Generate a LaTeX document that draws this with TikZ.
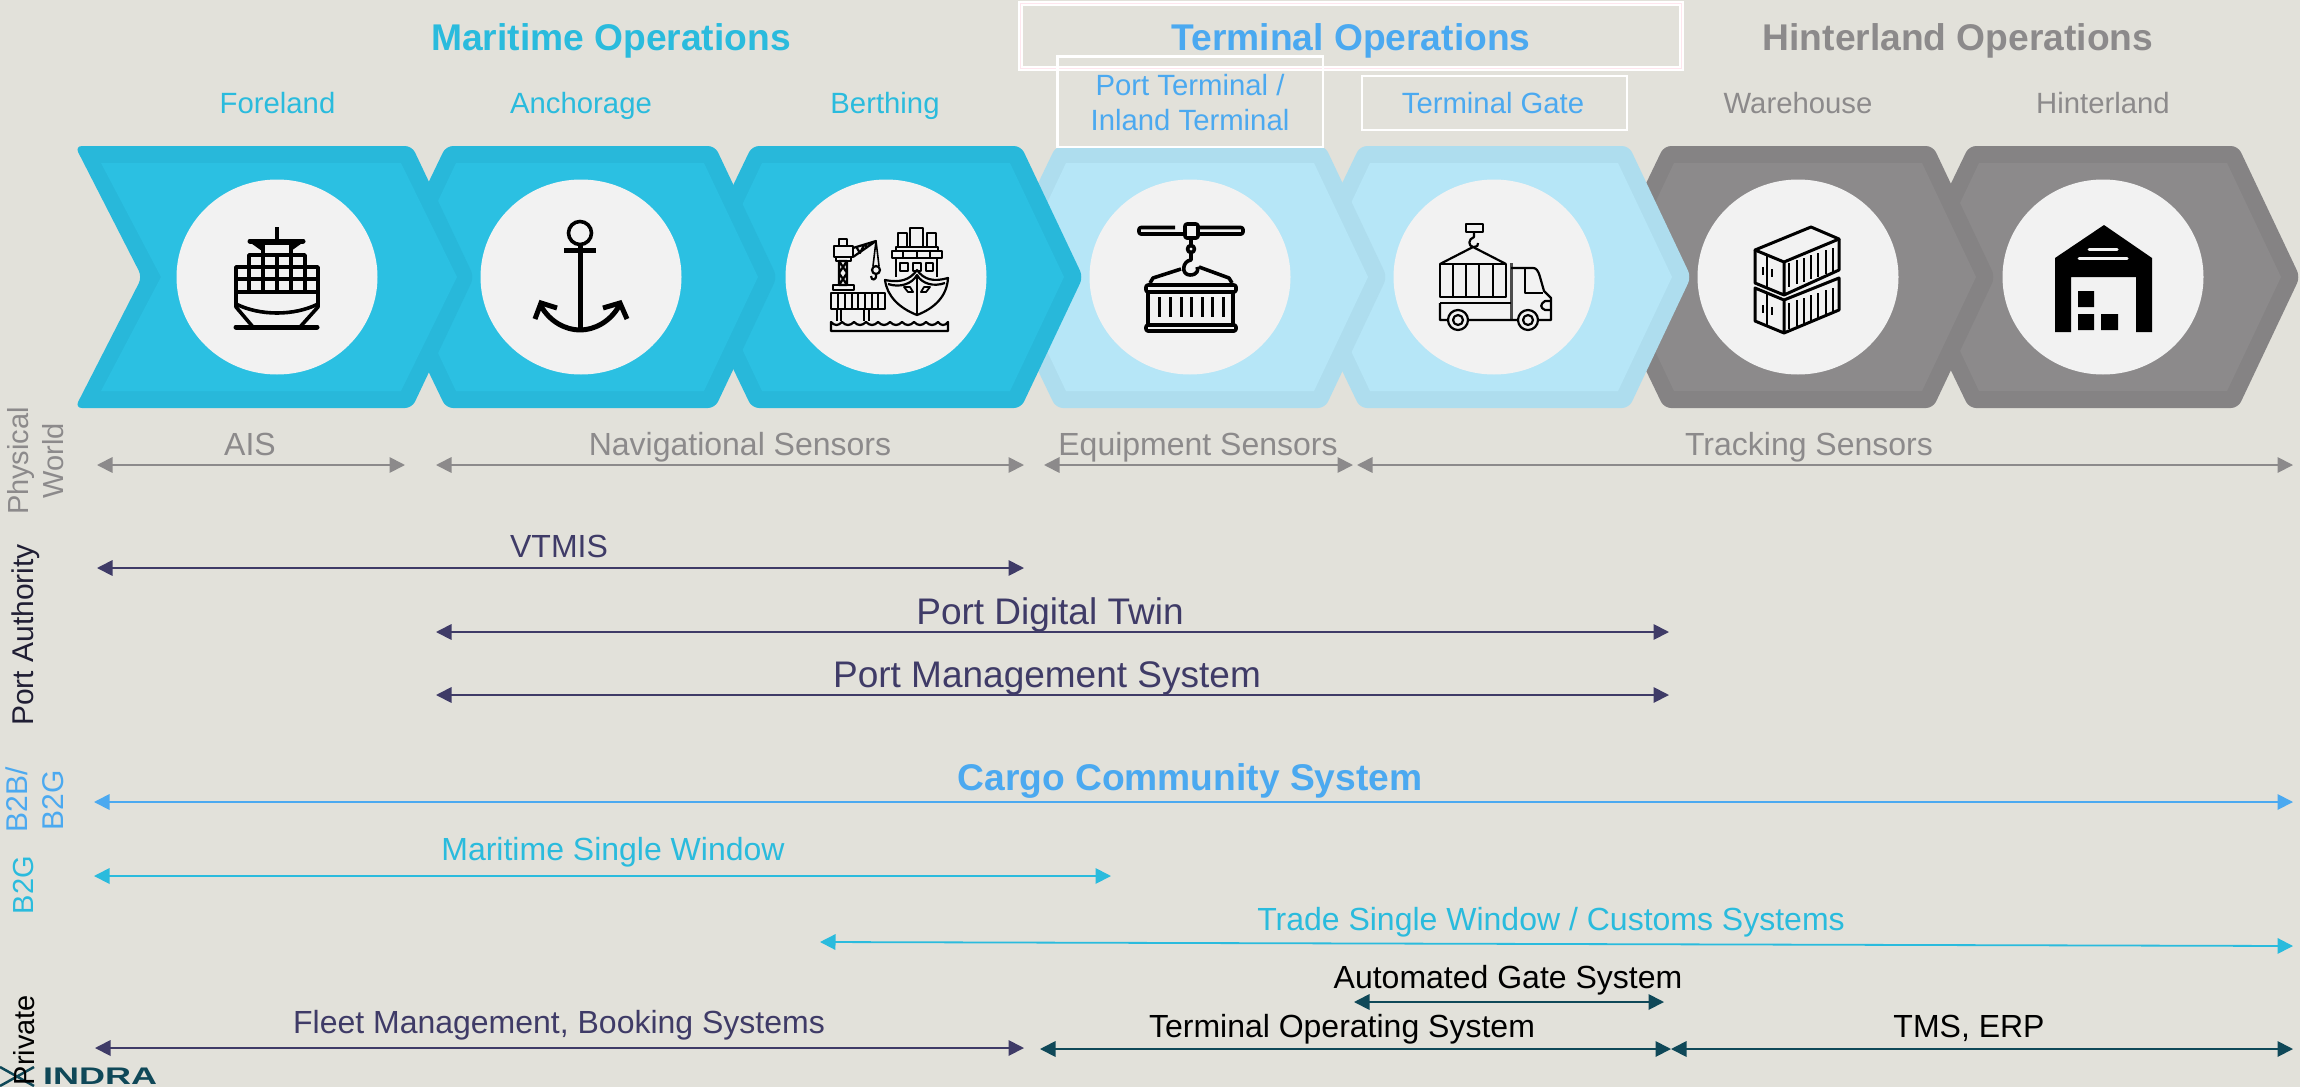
\documentclass[tikz,border=0pt]{standalone}
\usepackage{fontspec}
\usepackage{graphicx}
\setmainfont{Liberation Sans}
\usetikzlibrary{arrows.meta,shapes.geometric}
\definecolor{bgc}{HTML}{E2E1DA}
\definecolor{blueO}{HTML}{28B8DA}
\definecolor{blueI}{HTML}{2BC0E2}
\definecolor{lightO}{HTML}{AEDDEE}
\definecolor{lightI}{HTML}{B6E6F7}
\definecolor{grayO}{HTML}{858384}
\definecolor{grayI}{HTML}{8C8A8B}
\definecolor{disc}{HTML}{F2F2F2}
\definecolor{termB}{HTML}{4BA9F0}
\definecolor{mariB}{HTML}{2ABBDD}
\definecolor{txtG}{HTML}{8C8A8B}
\definecolor{navy}{HTML}{3F3B67}
\definecolor{teal}{HTML}{0F4858}
\definecolor{pinkline}{HTML}{FFE6EE}
\newcommand{\hexchev}[3]{%
  \fill[#2,rounded corners=7] ({#1-134},146) -- ({#1+135},146) -- ({#1+197},277) -- ({#1+135},408) -- ({#1-134},408) -- ({#1-197},277) -- cycle;
  \fill[#3] ({#1-124},163) -- ({#1+124},163) -- ({#1+178},277) -- ({#1+124},391) -- ({#1-124},391) -- ({#1-178},277) -- cycle;
}
\newcommand{\fsz}[1]{\fontsize{#1}{#1}\selectfont}
\tikzset{
  x=1pt,y=-1pt,
  disk/.style={ellipse,fill=disc,minimum width=201pt,minimum height=195pt,inner sep=0pt},
  lab/.style={anchor=base,inner sep=0pt,font=\fsz{29.3}},
  head/.style={anchor=base,inner sep=0pt,font=\fsz{37.2}\bfseries},
  whitebox/.style={draw=white,line width=2.2pt,fill=none},
  harrow/.style={line width=1.8pt,{Triangle[length=15.5pt,width=15.5pt]}-{Triangle[length=15.5pt,width=15.5pt]}},
  side/.style={inner sep=0pt,rotate=90,anchor=center,align=center},
  ico/.style={line width=3.6pt,draw=black,line join=round},
  icot/.style={line width=2.2pt,draw=black,line join=round},
}
\begin{document}
\begin{tikzpicture}
\useasboundingbox (0,0) rectangle (2300,1087);
\fill[bgc] (0,0) rectangle (2300,1087);

% chevrons, back to front
\hexchev{2103}{grayO}{grayI}
\hexchev{1798}{grayO}{grayI}
\hexchev{1494}{lightO}{lightI}
\hexchev{1190}{lightO}{lightI}
\hexchev{886}{blueO}{blueI}
\hexchev{580}{blueO}{blueI}
\fill[blueO,rounded corners=7] (75,146) -- (412,146) -- (474,277) -- (412,408) -- (75,408) -- (142,277) -- cycle;
\fill[blueI] (101,163) -- (401,163) -- (457,277) -- (401,391) -- (101,391) -- (161,277) -- cycle;

% discs
\node[disk] (d1) at (277,277) {};
\node[disk] (d2) at (581,277) {};
\node[disk] (d3) at (886,277) {};
\node[disk] (d4) at (1190,277) {};
\node[disk] (d5) at (1494,277) {};
\node[disk] (d6) at (1798,277) {};
\node[disk] (d7) at (2103,277) {};

% ---- ship
\draw[ico] (277,227) -- (277,240);
\draw[line width=5pt,line cap=round] (250,241) -- (303,241);
\fill (248,241) -- (262,251) -- (264,243) -- cycle;
\fill (305,241) -- (291,251) -- (289,243) -- cycle;
\draw[ico] (263,243) rectangle (291,255);
\draw[ico] (249,255) rectangle (305,267);
\foreach \xx in {263,277,291} \draw[ico] (\xx,255) -- (\xx,267);
\draw[ico] (236,267) rectangle (318,292);
\draw[ico] (236,279) -- (318,279);
\foreach \xx in {249,263,277,291,305} \draw[ico] (\xx,267) -- (\xx,292);
\draw[ico] (236,292) -- (236,307) -- (253,327);
\draw[ico] (318,292) -- (318,307) -- (300,327);
\draw[ico] (236,304) .. controls (260,316) and (294,316) .. (318,304);
\draw[line width=5pt,line cap=round] (236,327) -- (317,327);

% ---- anchor
\draw[ico] (580,233) circle (11.5);
\draw[line width=5pt] (564,250) -- (596,250);
\draw[ico,line width=5pt] (580,244) -- (580,330);
\draw[ico,line width=5pt] (541,306) .. controls (550,322) and (566,330) .. (580,330) .. controls (594,330) and (610,322) .. (619,306);
\draw[ico,line width=5pt,line join=miter] (535,319) -- (541,303) -- (557,308);
\draw[ico,line width=5pt,line join=miter] (627,319) -- (620,303) -- (603,308);

% ---- berth
\draw[icot] (839,239) rectangle (847,246);
\draw[icot] (834,246) rectangle (853,257);
\draw[icot] (836,257) rectangle (851,261);
\draw[icot] (839,261) rectangle (847,285) (839,261) -- (847,273) -- (839,285) (847,261) -- (839,273) -- (847,285);
\draw[icot] (833,285) rectangle (854,290);
\draw[icot] (853,248) -- (876,241) -- (853,257) (857,248) -- (860,253) -- (864,245) -- (868,247);
\draw[icot,line width=1.6pt] (876,241) -- (873,266) (876,241) -- (879,266);
\draw[icot] (876,270) circle (4);
\draw[icot] (876,274) .. controls (877,281) and (871,281) .. (871,276);
\draw[icot] (831,293) rectangle (885,309);
\foreach \xx in {838,845,852,858,865,872,878} \draw[icot,line width=1.6pt] (\xx,293) -- (\xx,309);
\draw[icot] (837,309) -- (837,321) (841,309) -- (841,321) (864,309) -- (864,321) (869,309) -- (869,321);
\draw[icot] (831,322) .. controls (835,326) and (838,326) .. (842,322) .. controls (846,326) and (850,326) .. (854,322) .. controls (858,326) and (862,326) .. (866,322) .. controls (870,326) and (874,326) .. (878,322) .. controls (882,326) and (886,326) .. (890,322) .. controls (894,326) and (898,326) .. (902,322) .. controls (906,326) and (910,326) .. (914,322) .. controls (918,326) and (922,326) .. (926,322) .. controls (930,326) and (934,326) .. (938,322) .. controls (941,326) and (945,326) .. (948,322) -- (948,331) -- (831,331) -- cycle;
\draw[icot] (898,233) rectangle (907,247);
\draw[icot] (910,228) rectangle (923,247);
\draw[icot] (927,233) rectangle (936,247);
\draw[icot] (896,247) rectangle (938,251);
\draw[icot] (892,251) rectangle (942,258);
\draw[icot] (903,251) -- (903,258) (917,251) -- (917,258) (930,251) -- (930,258);
\draw[icot] (896,258) -- (896,277) (937,258) -- (937,277);
\draw[icot] (900,263) rectangle (908,271) (913,263) rectangle (921,271) (926,263) rectangle (933,271);
\filldraw[icot,fill=disc] (885,280) .. controls (900,283) and (910,280) .. (917,270) .. controls (924,280) and (934,282) .. (948,278) .. controls (947,296) and (935,308) .. (917,315) .. controls (899,308) and (887,296) .. (885,280) -- cycle;
\draw[icot] (888,284) .. controls (900,288) and (912,284) .. (917,275) .. controls (922,284) and (934,287) .. (945,283);
\draw[icot] (917,276) -- (917,315);
\draw[icot,line width=1.8pt] (904,287) -- (910,287) -- (913,292) -- (908,292) -- cycle (930,287) -- (924,287) -- (921,292) -- (926,292) -- cycle;

% ---- crane & container
\draw[ico,rounded corners=2] (1175,227.5) -- (1139,227.5) -- (1139,234) -- (1243,234) -- (1243,227.5) -- (1185,227.5);
\filldraw[ico,fill=disc,rounded corners=2] (1185,224) rectangle (1198,238);
\draw[ico] (1191,238) -- (1191,245);
\draw[ico] (1191,249) circle (3.5);
\draw[ico] (1191,253) -- (1191,260) .. controls (1182,261) and (1181,275) .. (1190,275) .. controls (1197,275) and (1199,270) .. (1197,267);
\draw[ico] (1150,283) -- (1153,278) -- (1181,269) (1232,283) -- (1229,278) -- (1199,267);
\draw[ico,rounded corners=2] (1146,285) rectangle (1236,292);
\draw[ico] (1148,292) -- (1148,324) (1233,292) -- (1233,324);
\foreach \xx in {1159,1170,1181,1191,1202,1212,1223} \draw[ico,line width=3pt] (\xx,297) -- (\xx,317);
\draw[ico,rounded corners=2] (1146,325) rectangle (1236,331);

% ---- truck
\draw[icot] (1466,224) rectangle (1483,232);
\draw[icot] (1474,232) -- (1474,237) .. controls (1468,239) and (1468,246) .. (1473,247) .. controls (1477,247) and (1479,245) .. (1478,243);
\draw[icot] (1440,264) -- (1473,247) -- (1506,264);
\draw[icot] (1440,264) rectangle (1506,297);
\foreach \xx in {1453,1466,1479,1493} \draw[icot] (\xx,264) -- (\xx,297);
\draw[line width=3pt,black!70] (1511,263) -- (1511,320);
\draw[icot] (1440,303) -- (1511,303);
\draw[icot] (1440,303) -- (1440,320) -- (1448,320) (1468,320) -- (1518,320) (1538,320) -- (1551,320) -- (1551,298) -- (1544,291) -- (1540,277) .. controls (1538,270) and (1536,268) .. (1533,268) -- (1511,268);
\draw[icot] (1525,268) -- (1525,293) -- (1543,293);
\draw[icot] (1551,301) -- (1545,301) .. controls (1540,304) and (1540,308) .. (1545,310) -- (1551,310);
\draw[icot] (1458,320) circle (10) (1458,320) circle (5);
\draw[icot] (1528,320) circle (10) (1528,320) circle (5);

% ---- stacked containers
\draw[ico,line width=3pt] (1811,227) -- (1839,239) -- (1784,262) -- (1755,250) -- cycle;
\draw[ico,line width=3pt] (1755,250) -- (1755,283) -- (1784,295) -- (1839,270) -- (1839,239) (1784,262) -- (1784,295);
\draw[ico,line width=3pt] (1755,288) -- (1755,321) -- (1784,333) -- (1839,310) -- (1839,278) -- (1784,300) -- cycle (1784,300) -- (1784,333);
\draw[icot] (1767,255) -- (1767,288) (1767,293) -- (1767,326);
\foreach \xx/\yy in {1789/263,1797/260,1804/258,1811/255,1818/253,1826/250,1833/248}{
  \draw[line width=2.6pt] (\xx,\yy) -- (\xx,\yy+24);
  \draw[line width=2.6pt] (\xx,\yy+40) -- (\xx,\yy+66);
}
\draw[line width=2.6pt] (1763,267) -- (1763,275) (1772,269) -- (1772,277) (1763,305) -- (1763,313) (1772,307) -- (1772,315);

% ---- warehouse
\fill (2104,225) -- (2152,258) -- (2152,332) -- (2136,332) -- (2136,277) -- (2071,277) -- (2071,332) -- (2055,332) -- (2055,258) -- cycle;
\fill (2078,291) rectangle (2094,307) (2078,314) rectangle (2094,330) (2101,314) rectangle (2118,330);
\draw[disc,line width=3pt,line cap=round] (2089,249) -- (2117,249) (2079,258) -- (2127,258);

% headings
\node[head,text=mariB] (hM) at (611,50) {Maritime Operations};
\node[head,text=termB] (hT) at (1351,50) {Terminal Operations};
\node[head,text=txtG] (hH) at (1958,50) {Hinterland Operations};
\draw[whitebox,line width=5pt] (1020.5,3.5) rectangle (1681,68.5);
\draw[pinkline,line width=0.7pt] (1020.5,3.5) rectangle (1681,68.5);
\draw[whitebox] (1057.5,56.5) rectangle (1323,147);
\draw[whitebox] (1362,76) rectangle (1627,130);

\node[lab,text=mariB] (l1) at (277.5,113) {Foreland};
\node[lab,text=mariB] (l2) at (581,113) {Anchorage};
\node[lab,text=mariB] (l3) at (885,113) {Berthing};
\node[lab,text=termB] (l4a) at (1190,95) {Port Terminal /};
\node[lab,text=termB] (l4b) at (1190,130) {Inland Terminal};
\node[lab,text=termB] (l5) at (1493,113) {Terminal Gate};
\node[lab,text=txtG] (l6) at (1798,113) {Warehouse};
\node[lab,text=txtG] (l7) at (2103,113) {Hinterland};

% arrow ends
\foreach \n/\a/\b/\y in {aA/97/405/465,aN/436/1024/465,aE/1044/1353/465,aT/1357/2293/465,
  vL/97/1024/568,pT/436/1669/632,pM/436/1669/695,cC/94/2293/802,mW/94/1111/876,aG/1354/1664/1002,
  fB/95/1024/1048,tO/1040/1671/1049,tE/1671/2293/1049}{
  \coordinate (\n1) at (\a,\y);
  \coordinate (\n2) at (\b,\y);
}
\coordinate (tS1) at (820,942);
\coordinate (tS2) at (2293,946);

\draw[harrow,txtG] (aA1) -- (aA2);
\draw[harrow,txtG] (aN1) -- (aN2);
\draw[harrow,txtG] (aE1) -- (aE2);
\draw[harrow,txtG] (aT1) -- (aT2);
\draw[harrow,navy] (vL1) -- (vL2);
\draw[harrow,navy] (pT1) -- (pT2);
\draw[harrow,navy] (pM1) -- (pM2);
\draw[harrow,termB] (cC1) -- (cC2);
\draw[harrow,mariB] (mW1) -- (mW2);
\draw[harrow,mariB] (tS1) -- (tS2);
\draw[harrow,teal] (aG1) -- (aG2);
\draw[harrow,navy] (fB1) -- (fB2);
\draw[harrow,teal] (tO1) -- (tO2);
\draw[harrow,teal] (tE1) -- (tE2);

\node[lab,text=txtG,font=\fsz{32}] (tA) at (250,455) {AIS};
\node[lab,text=txtG,font=\fsz{32}] (tN) at (740,455) {Navigational Sensors};
\node[lab,text=txtG,font=\fsz{32}] (tEq) at (1198,455) {Equipment Sensors};
\node[lab,text=txtG,font=\fsz{32}] (tTr) at (1809,455) {Tracking Sensors};
\node[lab,text=navy,font=\fsz{32}] (tV) at (559,557) {VTMIS};
\node[lab,text=navy,font=\fsz{37}] (tP) at (1050,624) {Port Digital Twin};
\node[lab,text=navy,font=\fsz{37}] (tM) at (1047,687) {Port Management System};
\node[lab,text=termB,font=\fsz{37.2}\bfseries] (tC) at (1190,790) {Cargo Community System};
\node[lab,text=mariB,font=\fsz{32}] (tW) at (613,860) {Maritime Single Window};
\node[lab,text=mariB,font=\fsz{32}] (tS) at (1551,930) {Trade Single Window / Customs Systems};
\node[lab,text=black,font=\fsz{32}] (tG) at (1508,988) {Automated Gate System};
\node[lab,text=navy,font=\fsz{32}] (tF) at (559,1033) {Fleet Management, Booking Systems};
\node[lab,text=black,font=\fsz{32}] (tO) at (1342,1037) {Terminal Operating System};
\node[lab,text=black,font=\fsz{32}] (tEr) at (1969,1037) {TMS, ERP};

% side labels
\node[side,text=txtG,font=\fsz{29}] (s1) at (36,461) {Physical\\[6pt]World};
\node[side,text=navy!50!black,font=\fsz{30}] (s2) at (26,635) {Port Authority};
\node[side,text=termB,font=\fsz{30}] (s3) at (35,800) {B2B/\\[6pt]B2G};
\node[side,text=mariB,font=\fsz{29}] (s4) at (24,885) {B2G};
% logo
\draw[teal,line width=2.5pt] (0,1067) -- (34,1086) (34,1067) -- (0,1086);
\node[anchor=base west,inner sep=0pt,text=teal,font=\fsz{24}\bfseries] (logo) at (43,1084) {\scalebox{1.5}[1]{INDRA}};
\node[side,text=black,font=\fsz{29}] (s5) at (24,1040) {Private};
\end{tikzpicture}
\end{document}
